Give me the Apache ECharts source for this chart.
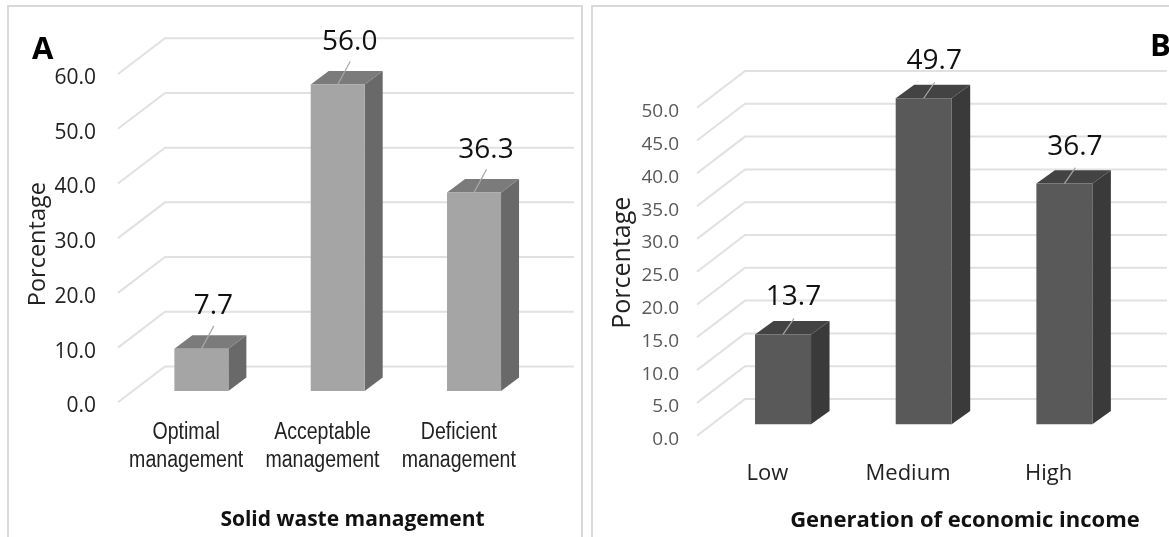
<!DOCTYPE html>
<html><head><meta charset="utf-8">
<style>html,body{margin:0;padding:0;background:#fff}#c{width:1169px;height:537px}</style>
<script src="https://cdn.jsdelivr.net/npm/echarts@6/dist/echarts.min.js"></script>
</head><body><div id="c"></div>
<script>
const categoriesA = ['Optimal\nmanagement', 'Acceptable\nmanagement', 'Deficient\nmanagement'];
const valuesA = [7.7, 56.0, 36.3];
const ticksA = [0, 10, 20, 30, 40, 50, 60];
const categoriesB = ['Low', 'Medium', 'High'];
const valuesB = [13.7, 49.7, 36.7];
const ticksB = [0, 5, 10, 15, 20, 25, 30, 35, 40, 45, 50];

const FONT = '"Open Sans","Noto Sans",sans-serif';
const chart = echarts.init(document.getElementById('c'), null, {renderer: 'canvas'});

function wallSeries(idx, ticks, dx, dy) {
  return {
    type: 'custom', xAxisIndex: idx, yAxisIndex: idx, silent: true, z: 1,
    data: ticks.map(t => [0, t]),
    renderItem(params, api) {
      const cs = params.coordSys;
      const y = api.coord([0, api.value(1)])[1];
      return {type: 'polyline', shape: {points: [[cs.x, y], [cs.x + dx, y - dy], [cs.x + cs.width + dx, y - dy]]},
        style: {stroke: '#e1e1e1', lineWidth: 2, fill: null}};
    }
  };
}
function barSeries(idx, values, o) {
  return {
    type: 'custom', xAxisIndex: idx, yAxisIndex: idx, silent: true, z: 3,
    data: values.map((v, i) => [i, v]),
    renderItem(params, api) {
      const v = api.value(1);
      const top = api.coord([api.value(0), v]);
      const base = api.coord([api.value(0), 0]);
      const cx = top[0] + o.shiftX, hw = o.width / 2;
      const l = cx - hw, r = cx + hw, ty = top[1] - o.shiftY, by = base[1] - o.shiftY;
      const d = o.depthX, e = o.depthY;
      return {type: 'group', children: [
        {type: 'polygon', shape: {points: [[r, ty], [r + d, ty - e], [r + d, by - e], [r, by]]}, style: {fill: o.side}},
        {type: 'polygon', shape: {points: [[l, ty], [l + d, ty - e], [r + d, ty - e], [r, ty]]}, style: {fill: o.top}},
        {type: 'rect', shape: {x: l, y: ty, width: o.width, height: by - ty}, style: {fill: o.front}},
        {type: 'line', shape: {x1: cx, y1: ty, x2: cx + o.lead[0], y2: ty - o.lead[1]}, style: {stroke: '#a8a8a8', lineWidth: 1.2}},
        {type: 'text', style: {text: v.toFixed(1), x: cx + o.label[0], y: ty - o.label[1], align: 'center', verticalAlign: 'middle',
          font: '28px ' + FONT, fill: '#111'}}
      ]};
    }
  };
}
function narrowLabelSeries(idx, cats, o) {
  return {
    type: 'custom', xAxisIndex: idx, yAxisIndex: idx, silent: true, z: 4,
    data: cats.map((c, i) => [i, 0]),
    renderItem(params, api) {
      const p = api.coord([api.value(0), 0]);
      return {type: 'text', x: p[0], y: p[1] + o.gap, scaleX: o.scaleX,
        style: {text: cats[params.dataIndex], align: 'center', verticalAlign: 'top',
          font: o.size + 'px "Liberation Sans",Arial,sans-serif', lineHeight: o.lineHeight, fill: '#222'}};
    }
  };
}
function yAxis(idx, max, itv, color, size, margin, gap, nameSize, pad) {
  return {type: 'value', gridIndex: idx, min: 0, max, interval: itv,
    axisLine: {show: false}, axisTick: {show: false}, splitLine: {show: false},
    axisLabel: {formatter: v => '{t|' + v.toFixed(1) + '}', margin,
      rich: {t: {color, fontFamily: FONT, fontSize: size, padding: [8, 0, 0, 0]}}},
    name: 'Porcentage', nameLocation: 'middle', nameGap: gap, nameRotate: 90,
    nameTextStyle: {fontFamily: FONT, fontSize: nameSize, color: '#222', padding: pad}};
}
function xAxis(idx, cats, title, labelStyle, gap, size, pad) {
  return {type: 'category', gridIndex: idx, data: cats,
    axisLine: {show: false}, axisTick: {show: false}, splitLine: {show: false},
    axisLabel: Object.assign({interval: 0, hideOverlap: false, color: '#222'}, labelStyle),
    name: title, nameLocation: 'middle', nameGap: gap,
    nameTextStyle: {fontFamily: FONT, fontSize: size, fontWeight: 'bold', color: '#111', padding: pad}};
}

chart.setOption({
  animation: false,
  backgroundColor: '#fff',
  grid: [
    {left: 118, top: 74, width: 409, height: 328.3, outerBoundsMode: 'none'},
    {left: 697, top: 107.7, width: 422, height: 328, outerBoundsMode: 'none'}
  ],
  xAxis: [
    xAxis(0, categoriesA, 'Solid waste management', {show: false}, 107, 21, [0, 0, 0, 60]),
    xAxis(1, categoriesB, 'Generation of economic income', {fontFamily: FONT, fontSize: 22, margin: 27}, 74, 22, [0, 0, 0, 114])
  ],
  yAxis: [
    yAxis(0, 60, 10, '#222', 21, 22, 55, 23.5, [0, 12, 0, 0]),
    yAxis(1, 50, 5, '#595959', 19, 18, 62, 25, [0, 0, 0, 18])
  ],
  series: [
    wallSeries(0, ticksA, 47, 35.8),
    wallSeries(1, ticksB, 48, 36.7),
    barSeries(0, valuesA, {shiftX: 15.2, shiftY: 11.3, width: 54, depthX: 18, depthY: 13.5, front: '#a5a5a5', top: '#7b7b7b', side: '#696969', lead: [12.5, 23], label: [12, 42.5]}),
    barSeries(1, valuesB, {shiftX: 15.7, shiftY: 11.4, width: 56, depthX: 18.5, depthY: 13.4, front: '#595959', top: '#434343', side: '#3a3a3a', lead: [11, 16], label: [10.5, 37]}),
    narrowLabelSeries(0, categoriesA, {gap: 16, scaleX: 0.85, size: 23, lineHeight: 28})
  ],
  graphic: [
    {type: 'rect', silent: true, z: 0, shape: {x: 8, y: 6, width: 574, height: 540}, style: {fill: 'none', stroke: '#d9d9d9', lineWidth: 2}},
    {type: 'rect', silent: true, z: 0, shape: {x: 592, y: 6, width: 600, height: 540}, style: {fill: 'none', stroke: '#d9d9d9', lineWidth: 2}},
    {type: 'text', silent: true, z: 5, style: {text: 'A', x: 32, y: 35, font: 'bold 31px ' + FONT, fill: '#000'}},
    {type: 'text', silent: true, z: 5, style: {text: 'B', x: 1150, y: 32, font: 'bold 31px ' + FONT, fill: '#000'}}
  ]
});
</script></body></html>
